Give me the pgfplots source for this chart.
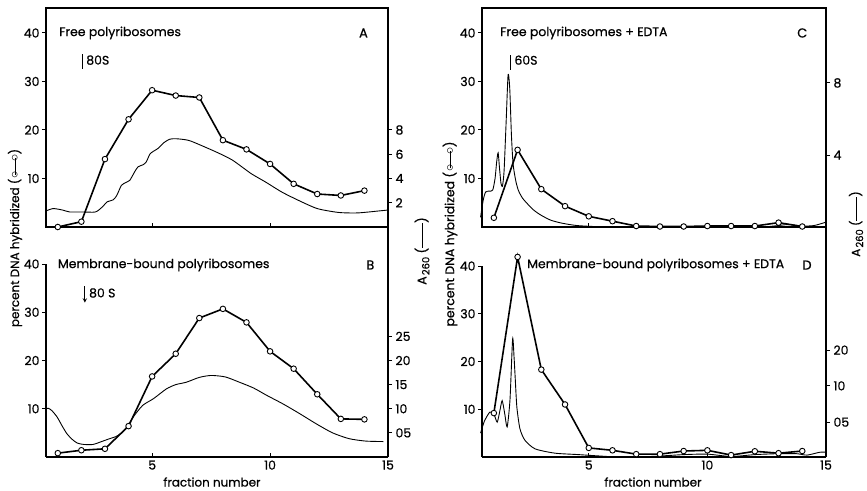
\documentclass[border=0pt]{standalone}
\usepackage{fontspec}
\setmainfont{Poppins}[FakeBold=0.6]
\usepackage{pgfplots}
\pgfplotsset{compat=1.18}
\newcommand{\oc}{\raisebox{0.05em}{\fontsize{15}{15}\selectfont$\circ$}}
\newcommand{\hyb}{(\kern0.02em\oc\kern-0.3em\rule[0.26em]{1.4em}{0.9pt}\kern-0.3em\oc\kern0.02em)}
\newcommand{\absl}{A\kern0.1em\raisebox{-0.25em}{\fontsize{10}{10}\selectfont 260} (\rule[0.25em]{2.0em}{0.9pt})}
\tikzset{ttl/.style={font=\fontsize{12.5}{14}\selectfont, anchor=west, inner sep=0pt},
  lett/.style={font=\fontsize{13}{14}\selectfont, inner sep=0pt}}
\pgfplotsset{
  panel/.style={scale only axis, xmin=0.5, xmax=15, ymin=0,
    xtick={5,10,15}, ytick={10,20,30,40}, xtick pos=left, ytick pos=left,
    tick align=outside, xtick align=inside,
    axis line style={line width=1.2pt}, tick style={line width=1pt, black},
    major tick length=4bp, clip=false,
    /pgf/number format/assume math mode=true,
    ticklabel style={font=\fontsize{12.5}{12}\selectfont},
    yticklabel style={xshift=1bp}},
  right/.style={scale only axis, xmin=0, xmax=1, ymin=0, axis x line=none,
    axis y line*=right, axis line style={-, line width=1.2pt},
    tick align=outside, tick style={line width=1pt, black}, major tick length=4bp,
    /pgf/number format/assume math mode=true,
    ticklabel style={font=\fontsize{12.5}{12}\selectfont}},
  circ/.style={black, line width=1.6pt, mark=*, mark size=2.8pt,
    mark options={fill=white, line width=0.9pt}},
  curve/.style={black, line width=0.9pt, smooth, tension=0.4},
}
\begin{document}
\begin{tikzpicture}
\path[use as bounding box] (0,0) rectangle (867bp,491bp);
% ---------------- Panel A
\begin{axis}[panel, at={(46bp,264bp)}, anchor=south west, width=342bp, height=219bp,
  ymax=45.15, xticklabels={}]
\addplot[curve] coordinates {(0.5,3.3)(0.8,3.8)(1.2,3.5)(1.5,3.1)(2.0,3.1)(2.6,3.1)(2.9,4.2)(3.1,5.2)(3.35,5.6)(3.5,6.5)(3.7,8.6)(3.9,9.2)(4.05,9.6)(4.25,11.3)(4.4,12.4)(4.6,12.8)(4.75,13.4)(4.9,15.0)(5.05,15.6)(5.25,16.2)(5.5,17.4)(5.75,18.1)(6.0,18.2)(6.4,18.0)(6.7,17.6)(7.7,15.5)(8.4,13.8)(9.2,11.0)(9.8,9.3)(10.5,7.2)(11.2,5.5)(12.0,3.8)(12.9,3.0)(13.7,2.9)(14.6,3.3)(15,3.5)};
\addplot[circ] coordinates {(1,0)(2,1.1)(3,14.0)(4,22.2)(5,28.2)(6,27.1)(7,26.7)(8,17.9)(9,16.0)(10,13.0)(11,8.9)(12,6.8)(13,6.5)(14,7.5)};
\node[ttl] at (axis cs:1.05,40) {Free polyribosomes};
\node[lett] at (axis cs:13.96,40) {A};
\draw[line width=1pt] (axis cs:2.06,32.6) -- (axis cs:2.06,35.6);
\node[ttl] at (axis cs:2.2,34.4) {80S};
\end{axis}
\begin{axis}[right, at={(46bp,264bp)}, anchor=south west, width=342bp, height=219bp,
  ymax=45.15, ytick={5,10,15,20}, yticklabels={2,4,6,8}]
\addplot[draw=none] coordinates {(0,0)};
\end{axis}
% ---------------- Panel B
\begin{axis}[panel, at={(46bp,34bp)}, anchor=south west, width=342bp, height=193bp,
  ymax=40, axis x line*=bottom, axis y line*=left, axis line style={-, line width=1.2pt}]
\addplot[curve] coordinates {(0.48,10.0)(0.6,10.1)(0.75,9.6)(0.97,8.3)(1.2,6.3)(1.39,4.8)(1.6,3.7)(1.82,2.9)(2.1,2.6)(2.5,2.6)(2.8,3.1)(3.2,3.8)(3.45,4.2)(3.65,4.8)(3.93,6.2)(4.2,8.3)(4.6,10.7)(5.06,12.1)(5.6,14.1)(6.0,15.0)(6.45,15.5)(7.0,16.5)(7.5,16.9)(8.1,16.6)(8.7,15.5)(9.3,14.3)(9.85,12.8)(10.55,11.0)(11.25,9.0)(11.95,6.9)(12.65,5.0)(13.35,3.8)(14.05,3.3)(14.8,3.2)};
\addplot[circ] coordinates {(1,0.8)(2,1.4)(3,1.7)(4,6.4)(5,16.7)(6,21.4)(7,28.8)(8,30.7)(9,27.9)(10,21.9)(11,18.3)(12,13.0)(13,7.9)(14,7.8)};
\node[ttl] at (axis cs:1.0,39.8) {Membrane-bound polyribosomes};
\node[lett] at (axis cs:14.25,39.8) {B};
\draw[line width=0.9pt, -stealth] (axis cs:2.15,35.4) -- (axis cs:2.15,32.0);
\node[ttl] at (axis cs:2.32,34.0) {80 S};
\end{axis}
\begin{axis}[right, at={(46bp,34bp)}, anchor=south west, width=342bp, height=193bp,
  ymax=40, ytick={5,10,15,20,25}, yticklabels={05,10,15,20,25}]
\addplot[draw=none] coordinates {(0,0)};
\end{axis}
% ---------------- Panel C
\begin{axis}[panel, at={(482bp,264bp)}, anchor=south west, width=344bp, height=219bp,
  ymax=45.15, xticklabels={}]
\addplot[curve] coordinates {(0.44,2.0)(0.55,5.5)(0.65,7.2)(0.8,7.4)(0.95,7.6)(1.05,10.0)(1.12,13.5)(1.18,15.3)(1.24,12.0)(1.3,9.0)(1.36,8.4)(1.43,11.5)(1.52,22.0)(1.6,31.4)(1.67,28.5)(1.74,19.0)(1.81,13.0)(1.92,9.6)(2.03,7.6)(2.2,6.0)(2.45,4.6)(2.7,3.4)(3.0,2.4)(3.4,1.4)(3.86,0.8)(4.5,0.3)(5.5,0.05)(7,0)(12,0)(12.8,0.2)(13.4,0.5)(14.0,0.2)(14.5,0.3)(15,1.0)};
\addplot[circ] coordinates {(1,1.9)(2,15.9)(3,7.8)(4,4.3)(5,2.2)(6,1.2)(7,0.2)(8,0.1)(9,0.1)(10,0.2)(11,0.2)(12,0.2)(13,0.9)(14,0.1)};
\node[ttl] at (axis cs:1.26,40) {Free polyribosomes + EDTA};
\node[lett] at (axis cs:14.0,40) {C};
\draw[line width=1pt] (axis cs:1.72,32.4) -- (axis cs:1.72,35.4);
\node[ttl] at (axis cs:1.86,34.4) {60S};
\end{axis}
\begin{axis}[right, at={(482bp,264bp)}, anchor=south west, width=344bp, height=219bp,
  ymax=45.15, ytick={14.8,29.7}, yticklabels={4,8}]
\addplot[draw=none] coordinates {(0,0)};
\end{axis}
% ---------------- Panel D
\begin{axis}[panel, at={(482bp,34bp)}, anchor=south west, width=344bp, height=191bp,
  ymax=40, axis x line*=bottom, axis y line*=left, axis line style={-, line width=1.2pt}]
\addplot[curve] coordinates {(0.44,5.0)(0.6,7.5)(0.83,9.4)(1.0,9.0)(1.14,7.3)(1.25,9.6)(1.35,11.8)(1.46,9.0)(1.56,6.3)(1.68,12.0)(1.79,24.7)(1.85,21.0)(1.9,16.5)(1.97,10.4)(2.1,5.9)(2.31,3.5)(2.74,1.7)(3.58,0.8)(4.57,0.5)(6,0.05)(7,0)(8,0.2)(9,0.5)(10,0.6)(11,0.1)(12,0.5)(13,0.7)(13.75,0.7)(14.2,0.4)(14.74,1.0)(15,1.0)};
\addplot[circ] coordinates {(1,9.2)(2,41.9)(3,18.3)(4,11.0)(5,1.9)(6,1.4)(7,0.6)(8,0.6)(9,1.25)(10,1.4)(11,0.4)(12,1.2)(13,0.8)(14,1.25)};
\node[ttl] at (axis cs:2.4,40.2) {Membrane-bound polyribosomes + EDTA};
\node[lett] at (axis cs:14.2,40.2) {D};
\end{axis}
\begin{axis}[right, at={(482bp,34bp)}, anchor=south west, width=344bp, height=191bp,
  ymax=40, ytick={7.3,14.9,22.4}, yticklabels={05,10,20}]
\addplot[draw=none] coordinates {(0,0)};
\end{axis}
% ---------------- shared spines and labels
\draw[line width=1.2pt] (388bp,34bp) -- (388bp,483bp);
\draw[line width=1.2pt] (826bp,34bp) -- (826bp,483bp);
\node[font=\fontsize{12}{12}\selectfont] at (212bp,9bp) {fraction number};
\node[font=\fontsize{12}{12}\selectfont] at (653bp,9bp) {fraction number};
\node[font=\fontsize{12}{12}\selectfont, rotate=90] at (15bp,253bp) {percent DNA hybridized \hyb};
\node[font=\fontsize{12.5}{12}\selectfont, rotate=90] at (450bp,257bp) {percent DNA hybridized \hyb};
\node[font=\fontsize{12.5}{12}\selectfont, rotate=90] at (422bp,240bp) {\absl};
\node[font=\fontsize{12}{12}\selectfont, rotate=90, inner sep=1pt] at (856bp,267bp) {\absl};
\end{tikzpicture}
\end{document}
